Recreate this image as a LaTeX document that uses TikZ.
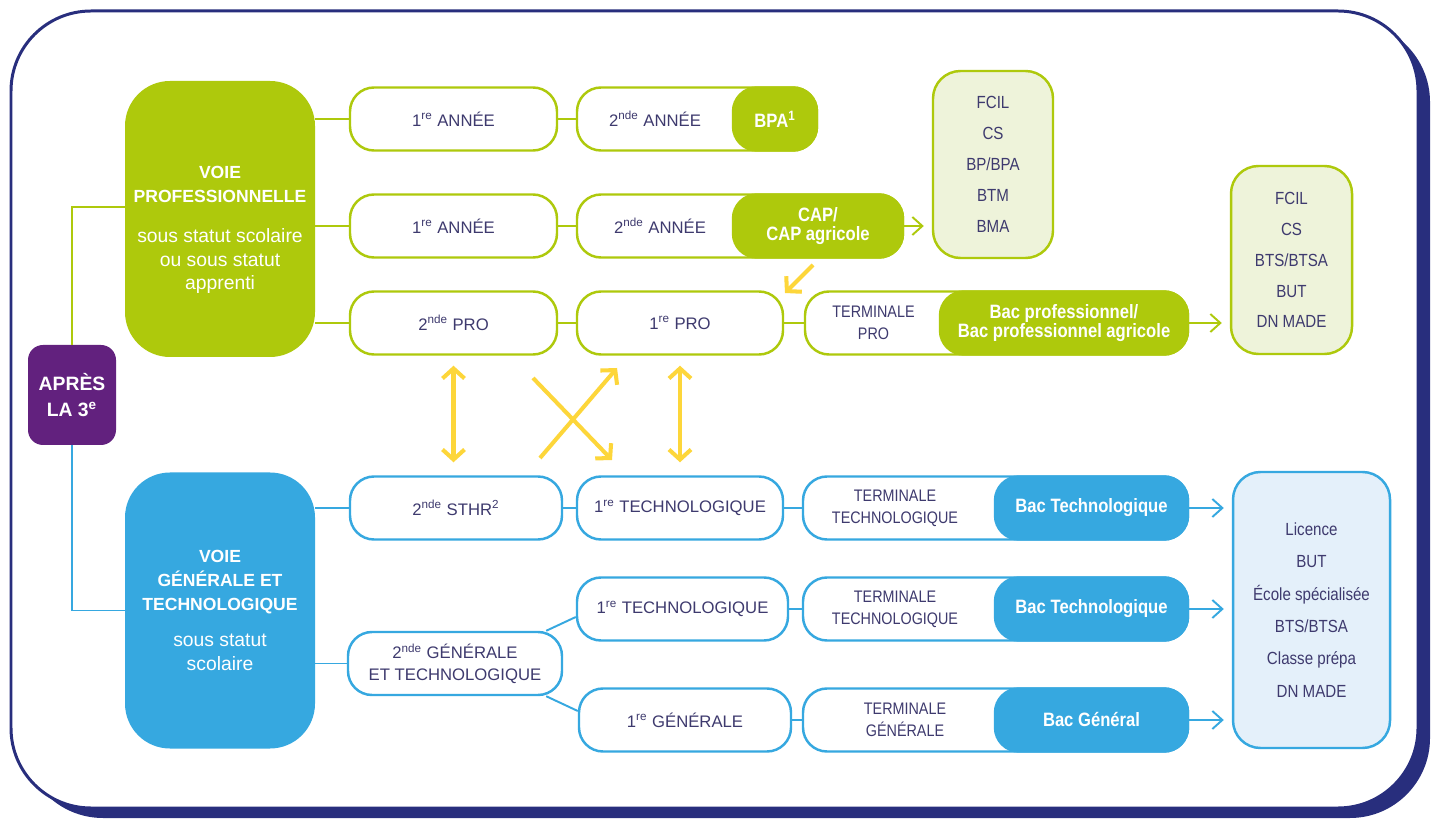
\documentclass[tikz,border=0pt]{standalone}
\usepackage{fontspec}
\setmainfont{Liberation Sans}
\newfontfamily\narrowfont{Liberation Sans}[FakeStretch=0.86]
\usetikzlibrary{arrows.meta}
\definecolor{framenavy}{RGB}{40,46,125}
\definecolor{progreen}{RGB}{174,201,12}
\definecolor{prolight}{RGB}{238,243,218}
\definecolor{genblue}{RGB}{54,168,224}
\definecolor{genlight}{RGB}{228,240,250}
\definecolor{apurple}{RGB}{98,33,126}
\definecolor{inktext}{RGB}{62,58,110}
\definecolor{arrowyellow}{RGB}{253,214,58}
\begin{document}
\begin{tikzpicture}
            \tikzstyle{every node}=[font=\fontsize{9.5}{11}\selectfont, text=inktext, align=center, inner sep=0pt]
            \tikzstyle{stage}=[draw, line width=1.4pt, fill=white, rounded corners=0.48cm, minimum height=1.26cm]
            \tikzstyle{prostage}=[stage, draw=progreen]
            \tikzstyle{genstage}=[stage, draw=genblue]
            \tikzstyle{diploma}=[line width=1.4pt, rounded corners=0.48cm, minimum height=1.26cm, text=white, font=\fontsize{11}{10.8}\narrowfont\bfseries]
            \tikzstyle{termtext}=[font=\fontsize{9.5}{12.5}\narrowfont]
            \tikzstyle{voie}=[rounded corners=0.9cm, minimum width=3.8cm, minimum height=5.52cm, text=white, font=\fontsize{11}{13.6}\selectfont]
            \tikzstyle{prolist}=[draw=progreen, fill=prolight, line width=1.4pt, rounded corners=0.55cm, font=\fontsize{10}{17.6}\narrowfont]
            \tikzstyle{genlist}=[draw=genblue, fill=genlight, line width=1.4pt, rounded corners=0.55cm, font=\fontsize{10}{18.4}\narrowfont]
            \tikzstyle{prolink}=[draw=progreen, line width=1.1pt]
            \tikzstyle{genlink}=[draw=genblue, line width=1.1pt]
            \tikzstyle{prohead}=[prolink, shorten >=0.16cm, -{Straight Barb[length=0.2cm, width=0.36cm]}]
            \tikzstyle{genhead}=[genlink, shorten >=0.16cm, -{Straight Barb[length=0.2cm, width=0.36cm]}]
            \tikzstyle{yone}=[draw=arrowyellow, line width=2.3pt, -{Straight Barb[length=0.2cm, width=0.44cm]}]
            \tikzstyle{yboth}=[draw=arrowyellow, line width=2.3pt, {Straight Barb[length=0.2cm, width=0.44cm]}-{Straight Barb[length=0.2cm, width=0.44cm]}]
            \useasboundingbox (0,0) rectangle (28.7,16.42);
            \fill [framenavy, rounded corners=1.6cm] (0.46,0.06) rectangle (28.6,15.98);
            \draw [framenavy, line width=1.7pt, fill=white, rounded corners=1.6cm] (0.22,0.26) rectangle (28.36,16.2);
            \node [fill=apurple, rounded corners=0.3cm, minimum width=1.76cm, minimum height=2cm, text=white, font=\bfseries\fontsize{11}{14.5}\selectfont] (apres) at (1.44,8.52) {APRÈS\\LA 3\textsuperscript{e}};
            \node [voie, fill=progreen] (voiepro) at (4.4,12.04) {\mbox{}\\[6pt]{\bfseries\fontsize{10}{12}\selectfont VOIE}\\{\bfseries\fontsize{10}{12}\selectfont PROFESSIONNELLE}\\[9pt]sous statut scolaire\\ou sous statut\\apprenti};
            \node [voie, fill=genblue] (voiegen) at (4.4,4.21) {{\bfseries\fontsize{10}{12}\selectfont VOIE}\\{\bfseries\fontsize{10}{12}\selectfont GÉNÉRALE ET}\\{\bfseries\fontsize{10}{12}\selectfont TECHNOLOGIQUE}\\[7pt]sous statut\\scolaire};
            \node [prostage, minimum width=4.14cm] (p1a) at (9.07,14.04) {1\textsuperscript{re} ANNÉE};
            \node [prostage, minimum width=4.8cm] (p1b) at (13.94,14.04) {};
            \node [diploma, fill=progreen, draw=progreen, minimum width=1.68cm] (bpa) at (15.5,14.04) {BPA\textsuperscript{1}};
            \node (p1bt) at (13.1,14.04) {2\textsuperscript{nde} ANNÉE};
            \node [prostage, minimum width=4.14cm] (p2a) at (9.07,11.9) {1\textsuperscript{re} ANNÉE};
            \node [prostage, minimum width=6.52cm] (p2b) at (14.8,11.9) {};
            \node [diploma, fill=progreen, draw=progreen, minimum width=3.4cm] (cap) at (16.36,11.9) {CAP/\\CAP agricole};
            \node (p2bt) at (13.2,11.9) {2\textsuperscript{nde} ANNÉE};
            \node [prolist, minimum width=2.4cm, minimum height=3.74cm] (capnext) at (19.86,13.13) {FCIL\\CS\\BP/BPA\\BTM\\BMA};
            \node [prostage, minimum width=4.14cm] (p3a) at (9.07,9.96) {2\textsuperscript{nde} PRO};
            \node [prostage, minimum width=4.12cm] (p3b) at (13.6,9.96) {1\textsuperscript{re} PRO};
            \node [prostage, minimum width=7.66cm] (p3c) at (19.93,9.96) {};
            \node [diploma, fill=progreen, draw=progreen, minimum width=4.96cm] (bacpro) at (21.28,9.96) {Bac professionnel/\\Bac professionnel agricole};
            \node [termtext] (p3ct) at (17.47,9.96) {TERMINALE\\PRO};
            \node [prolist, minimum width=2.42cm, minimum height=3.76cm] (bacpronext) at (25.83,11.22) {FCIL\\CS\\BTS/BTSA\\BUT\\DN MADE};
            \node [genstage, minimum width=4.24cm] (gA1) at (9.12,6.26) {2\textsuperscript{nde} STHR\textsuperscript{2}};
            \node [genstage, minimum width=4.12cm] (gA2) at (13.6,6.26) {1\textsuperscript{re} TECHNOLOGIQUE};
            \node [genstage, minimum width=7.7cm] (gA3) at (19.91,6.26) {};
            \node [diploma, fill=genblue, draw=genblue, minimum width=3.86cm] (bactA) at (21.83,6.26) {Bac Technologique};
            \node [termtext] (gA3t) at (17.9,6.26) {TERMINALE\\TECHNOLOGIQUE};
            \node [genstage, minimum width=4.28cm, font=\fontsize{9.5}{12}\selectfont] (gt) at (9.1,3.15) {2\textsuperscript{nde} GÉNÉRALE\\ET TECHNOLOGIQUE};
            \node [genstage, minimum width=4.22cm] (gB2) at (13.65,4.24) {1\textsuperscript{re} TECHNOLOGIQUE};
            \node [genstage, minimum width=7.7cm] (gB3) at (19.91,4.24) {};
            \node [diploma, fill=genblue, draw=genblue, minimum width=3.86cm] (bactB) at (21.83,4.24) {Bac Technologique};
            \node [termtext] (gB3t) at (17.9,4.24) {TERMINALE\\TECHNOLOGIQUE};
            \node [genstage, minimum width=4.24cm] (gC2) at (13.7,2.02) {1\textsuperscript{re} GÉNÉRALE};
            \node [genstage, minimum width=7.7cm] (gC3) at (19.91,2.02) {};
            \node [diploma, fill=genblue, draw=genblue, minimum width=3.86cm] (bacg) at (21.83,2.02) {Bac Général};
            \node [termtext] (gC3t) at (18.1,2.02) {TERMINALE\\GÉNÉRALE};
            \node [genlist, minimum width=3.14cm, minimum height=5.52cm] (gennext) at (26.23,4.22) {Licence\\BUT\\École spécialisée\\BTS/BTSA\\Classe prépa\\DN MADE};
            \draw [prolink] (apres.north) |- ([yshift=0.24cm]voiepro.west);
            \draw [genlink] (apres.south) |- (voiegen.west);
            \draw [prolink] (voiepro.east |- p1a) -- (p1a);
            \draw [prolink] (voiepro.east |- p2a) -- (p2a);
            \draw [prolink] (voiepro.east |- p3a) -- (p3a);
            \draw [prolink] (p1a) -- (p1b);
            \draw [prolink] (p2a) -- (p2b);
            \draw [prolink] (p3a) -- (p3b);
            \draw [prolink] (p3b) -- (p3c);
            \draw [genlink] (voiegen.east |- gA1) -- (gA1);
            \draw [genlink] (voiegen.east |- gt) -- (gt);
            \draw [genlink] (gA1) -- (gA2);
            \draw [genlink] (gA2) -- (gA3);
            \draw [genlink] ([xshift=-0.34cm]gt.north east) -- ([yshift=-0.16cm]gB2.west);
            \draw [genlink] ([xshift=-0.34cm]gt.south east) -- ([yshift=0.18cm]gC2.west);
            \draw [genlink] (gB2) -- (gB3);
            \draw [genlink] (gC2) -- (gC3);
            \draw [prohead] (cap.east) -- (cap.east -| capnext.west);
            \draw [prohead] (bacpro.east) -- (bacpro.east -| bacpronext.west);
            \draw [genhead] (bactA.east) -- (bactA.east -| gennext.west);
            \draw [genhead] (bactB.east) -- (bactB.east -| gennext.west);
            \draw [genhead] (bacg.east) -- (bacg.east -| gennext.west);
            \coordinate (crossup0) at (10.8,7.26);
            \coordinate (crossup1) at (12.34,9.06);
            \coordinate (crossdn0) at (10.66,8.86);
            \coordinate (crossdn1) at (12.24,7.22);
            \coordinate (capdown0) at (16.26,11.12);
            \coordinate (capdown1) at (15.7,10.56);
            \draw [yboth, shorten <=0.2cm, shorten >=0.26cm] (p3a.south) -- (p3a.south |- gA1.north);
            \draw [yboth, shorten <=0.2cm, shorten >=0.26cm] (p3b.south) -- (gA2.north);
            \draw [yone] (crossup0) -- (crossup1);
            \draw [yone] (crossdn0) -- (crossdn1);
            \draw [yone] (capdown0) -- (capdown1);
        \end{tikzpicture}
\end{document}
